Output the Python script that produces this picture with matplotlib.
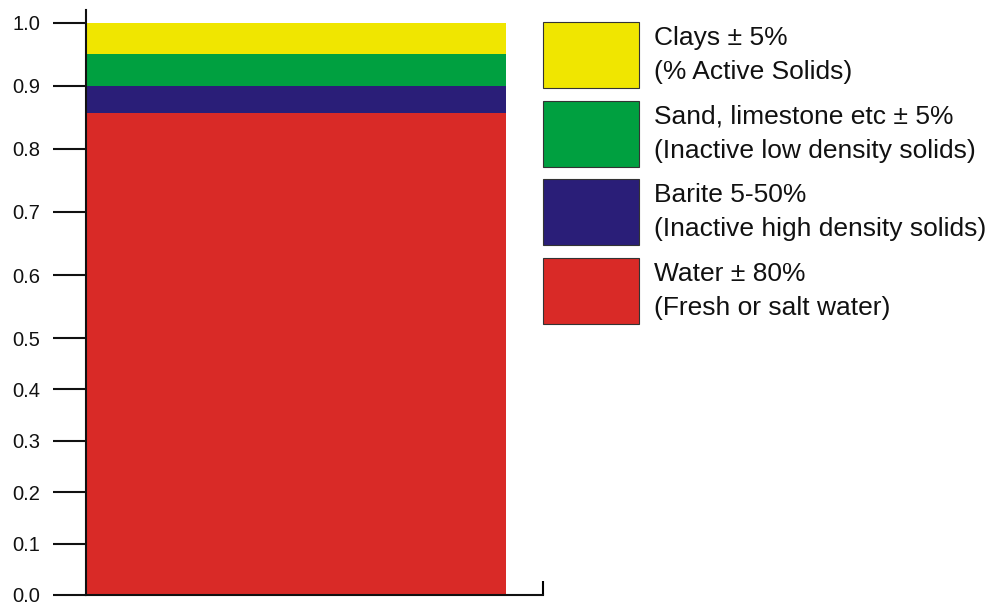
import numpy as np
import matplotlib
matplotlib.use("Agg")
import matplotlib.pyplot as plt
from matplotlib.patches import Rectangle

plt.rcParams['font.family'] = ['Liberation Sans', 'DejaVu Sans']

# ---- data ----------------------------------------------------------------
components = ["Water", "Barite", "Sand", "Clays"]          # bottom -> top
fractions = [0.856, 0.044, 0.05, 0.05]
colors = ["#d92a27", "#2a1e78", "#00a040", "#f0e600"]
legend_labels = [
    "Clays \u00b1 5%\n(% Active Solids)",
    "Sand, limestone etc \u00b1 5%\n(Inactive low density solids)",
    "Barite 5-50%\n(Inactive high density solids)",
    "Water \u00b1 80%\n(Fresh or salt water)",
]
ytick_values = [0.0, 0.1, 0.2, 0.3, 0.4, 0.5, 0.6, 0.7, 0.8, 0.9, 1.0]

# the original axis is drawn with a stretched upper half
scale_vals = [-1.0, 0.0, 0.5, 1.0, 2.0]
scale_pos = [-514.0, 0.0, 257.0, 572.6, 1203.8]

def forward(v):
    return np.interp(v, scale_vals, scale_pos)

def inverse(p):
    return np.interp(p, scale_pos, scale_vals)

# ---- figure --------------------------------------------------------------
fig = plt.figure(figsize=(9.88, 6.04), dpi=100)
W, H = 988.0, 604.0
ax = fig.add_axes([86 / W, (H - 595) / H, (543 - 86) / W, (595 - 10) / H])
ax.set_yscale('function', functions=(forward, inverse))

bottoms = np.concatenate([[0], np.cumsum(fractions)[:-1]])
for name, frac, bot, col in zip(components, fractions, bottoms, colors):
    ax.bar(0, frac, bottom=bot, width=0.92, align='edge', color=col,
           linewidth=0, label=name)

ax.set_xlim(0, 1)
ax.set_ylim(0, 1.02)

ax.set_yticks(ytick_values)
ax.set_yticklabels([f"{v:.1f}" for v in ytick_values])
ax.yaxis.set_minor_locator(matplotlib.ticker.NullLocator())
ax.tick_params(axis='y', direction='out', length=24, width=1.5, pad=9,
               labelsize=14.5, colors='#111111')
ax.set_xticks([1])
ax.set_xticklabels([''])
ax.tick_params(axis='x', direction='in', length=10, width=1.5)

for s in ['top', 'right']:
    ax.spines[s].set_visible(False)
for s in ['left', 'bottom']:
    ax.spines[s].set_linewidth(1.5)
    ax.spines[s].set_color('#111111')

# ---- legend (drawn by hand: tall swatches, two-line labels) ---------------
box_x, box_w, box_h = 543, 96, 66
first_top, pitch = 22, 78.7
for i, (lab, col) in enumerate(zip(legend_labels, colors[::-1])):
    top = first_top + i * pitch
    fig.patches.append(Rectangle((box_x / W, (H - top - box_h) / H),
                                 box_w / W, box_h / H,
                                 transform=fig.transFigure,
                                 facecolor=col, edgecolor='#333333',
                                 linewidth=0.8))
    fig.text((box_x + box_w + 15) / W, (H - top - box_h / 2) / H, lab,
             fontsize=19, va='center', ha='left', linespacing=1.52,
             color='#111111')

fig.savefig("out.png", dpi=100)
